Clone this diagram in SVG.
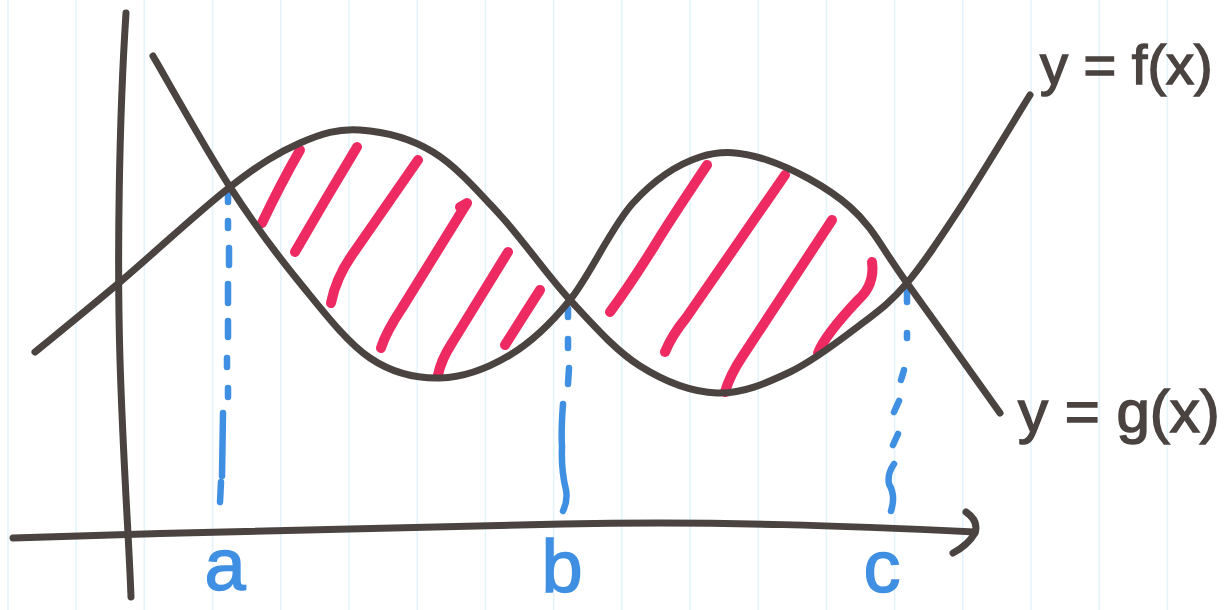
<svg xmlns="http://www.w3.org/2000/svg" width="1232" height="610" viewBox="0 0 1232 610">
<style>
.grid{stroke:#e2f3fa;stroke-width:1.5}
.ink{fill:none;stroke:#4a4340;stroke-width:7;stroke-linecap:round;stroke-linejoin:round}
.hatch{fill:none;stroke:#ee2a63;stroke-width:10;stroke-linecap:round;stroke-linejoin:round}
.dash{fill:none;stroke:#3f8fe2;stroke-width:6.5;stroke-linecap:round;stroke-linejoin:round}
.lbl{font-family:"Liberation Sans","DejaVu Sans",sans-serif;fill:#3f8fe2;stroke:#3f8fe2;stroke-width:1.5;font-size:74px;text-anchor:middle}
.fn{font-family:"Liberation Sans","DejaVu Sans",sans-serif;fill:#4a4340;stroke:#4a4340;stroke-width:1.5}
</style>
<rect width="1232" height="610" fill="#ffffff"/>
<g id="grid">
<line class="grid" x1="8" y1="0" x2="8" y2="610"/>
<line class="grid" x1="76.2" y1="0" x2="76.2" y2="610"/>
<line class="grid" x1="144.4" y1="0" x2="144.4" y2="610"/>
<line class="grid" x1="212.6" y1="0" x2="212.6" y2="610"/>
<line class="grid" x1="280.8" y1="0" x2="280.8" y2="610"/>
<line class="grid" x1="349" y1="0" x2="349" y2="610"/>
<line class="grid" x1="417.2" y1="0" x2="417.2" y2="610"/>
<line class="grid" x1="485.4" y1="0" x2="485.4" y2="610"/>
<line class="grid" x1="553.6" y1="0" x2="553.6" y2="610"/>
<line class="grid" x1="621.8" y1="0" x2="621.8" y2="610"/>
<line class="grid" x1="690" y1="0" x2="690" y2="610"/>
<line class="grid" x1="758.2" y1="0" x2="758.2" y2="610"/>
<line class="grid" x1="826.4" y1="0" x2="826.4" y2="610"/>
<line class="grid" x1="894.6" y1="0" x2="894.6" y2="610"/>
<line class="grid" x1="962.8" y1="0" x2="962.8" y2="610"/>
<line class="grid" x1="1031" y1="0" x2="1031" y2="610"/>
<line class="grid" x1="1099.2" y1="0" x2="1099.2" y2="610"/>
<line class="grid" x1="1167.4" y1="0" x2="1167.4" y2="610"/>
</g>
<g id="hatching">
<path class="hatch" d="M300,150 Q280,185 262,223"/>
<path class="hatch" d="M357,147 Q325,200 295,252"/>
<path class="hatch" d="M418,160 L352,255 Q336,278 331,303"/>
<path class="hatch" d="M460,207 L467,203 L402,308 Q386,332 381,348"/>
<path class="hatch" d="M508,252 L452,343 Q441,360 438,375"/>
<path class="hatch" d="M540,290 Q522,318 505,345"/>
<path class="hatch" d="M707,165 Q665,228 655,245 Q630,285 610,312"/>
<path class="hatch" d="M785,175 L686,318 Q672,335 665,352"/>
<path class="hatch" d="M832,220 L742,357 Q730,375 725,392"/>
<path class="hatch" d="M872,262 Q875,285 858,300 Q825,335 818,353"/>
</g>
<g id="dropLines">
<g id="dash-a">
<path class="dash" d="M228,194 L228,202"/>
<path class="dash" d="M228,221 L228,228"/>
<path class="dash" d="M229,248 L229,265"/>
<path class="dash" d="M228,284 L228,303"/>
<path class="dash" d="M228,321 L228,337"/>
<path class="dash" d="M227,358 L227,367"/>
<path class="dash" d="M228,388 L228,397"/>
<path class="dash" d="M223,413 L222,476"/>
<path class="dash" d="M221,482 L220,502"/>
</g>
<g id="dash-b">
<path class="dash" d="M568,309 L568,317"/>
<path class="dash" d="M568,339 L568,348"/>
<path class="dash" d="M569,368 L568,384"/>
<path class="dash" d="M563,404 Q561,430 562,447 Q561,470 566,490 Q568,500 563,511"/>
</g>
<g id="dash-c">
<path class="dash" d="M907,291 L907,302"/>
<path class="dash" d="M907,333 L907,338"/>
<path class="dash" d="M904,370 L901,380"/>
<path class="dash" d="M899,401 L894,412"/>
<path class="dash" d="M898,434 L893,445"/>
<path class="dash" d="M894,464 Q887,474 889,484 Q896,496 891,511"/>
</g>
</g>
<g id="axes">
<path id="y-axis" class="ink" d="M126,13 C119,120 117,260 120,360 S129,540 131,597"/>
<path id="x-axis" class="ink" d="M13,538 C200,532 400,527 563,524 S850,526 975,532"/>
<path id="x-arrowhead" class="ink" d="M966,512 Q979,521 975,533 Q968,545 953,553"/>
</g>
<g id="curve-f">
<path class="ink" d="M35,352 C49.2,340.3 87.5,309.5 120,282 C152.5,254.5 200,210.2 230,187 C260,163.8 278.3,152.5 300,143 C321.7,133.5 337.8,128.5 360,130 C382.2,131.5 409.7,137.8 433,152 C456.3,166.2 477.2,190.3 500,215 C522.8,239.7 546.7,274.8 570,300 C593.3,325.2 615.5,350.5 640,366 C664.5,381.5 692,392 717,393 C742,394 766.2,383.3 790,372 C813.8,360.7 840.5,339.8 860,325 C879.5,310.2 890.3,302.5 907,283 C923.7,263.5 939.5,239.3 960,208 C980.5,176.7 1018.3,113.8 1030,95"/>
</g>
<g id="curve-g">
<path class="ink" d="M153,56 C165.8,77.8 205.5,149.2 230,187 C254.5,224.8 276.7,254.5 300,283 C323.3,311.5 346.7,342.2 370,358 C393.3,373.8 416.7,378.5 440,378 C463.3,377.5 488.3,368 510,355 C531.7,342 549.5,325.3 570,300 C590.5,274.7 611.3,226.8 633,203 C654.7,179.2 677.7,164.2 700,157 C722.3,149.8 742,151.7 767,160 C792,168.3 826.7,186.5 850,207 C873.3,227.5 882,248.7 907,283 C932,317.3 984.5,391.3 1000,413"/>
</g>
<g id="labels">
<text class="lbl" x="225" y="590">a</text>
<text class="lbl" x="562" y="592">b</text>
<text class="lbl" x="882" y="592">c</text>
<text id="label-f" class="fn" x="1040" y="84" font-size="56">y = f(x)</text>
<text id="label-g" class="fn" x="1018" y="432" font-size="60">y = g(x)</text>
</g>
</svg>
